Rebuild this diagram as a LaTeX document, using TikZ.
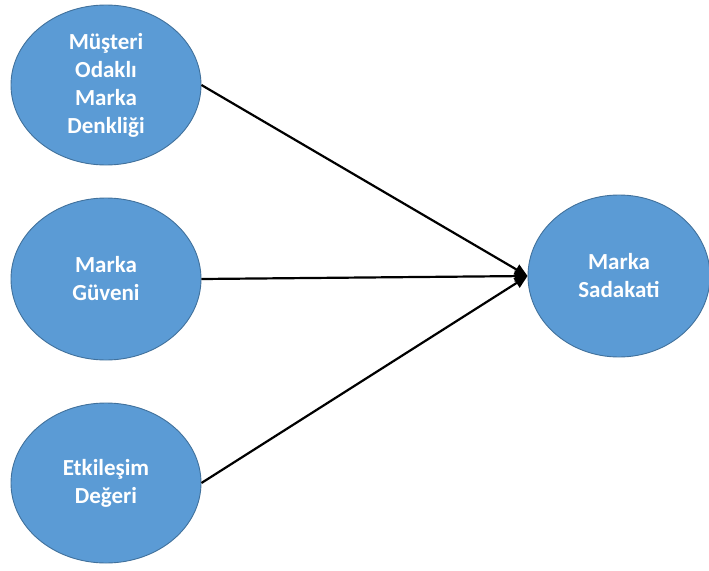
\documentclass[tikz,border=0pt]{standalone}
\usepackage{fontspec}
\setmainfont{Carlito}
\usetikzlibrary{shapes.geometric,arrows.meta}
\definecolor{ovalfill}{HTML}{5B9BD5}
\definecolor{ovalline}{HTML}{41719C}
\begin{document}
\begin{tikzpicture}[x=1pt,y=-1pt,
  oval/.style={ellipse,draw=ovalline,line width=0.9pt,fill=ovalfill,
    minimum width=190pt,minimum height=160pt,inner sep=0pt,
    align=center,text=white,font=\bfseries\fontsize{23}{28}\selectfont},
  link/.style={line width=2.2pt,-{Triangle[length=13pt,width=11pt]}}]
  \useasboundingbox (0,0) rectangle (709,570);
  \node[oval] (cbe) at (106,85) {Müşteri\\Odaklı\\Marka\\Denkliği};
  \node[oval,minimum height=162pt] (trust) at (106,279) {Marka\\Güveni};
  \node[oval] (value) at (106,483) {Etkileşim\\Değeri};
  \node[oval,minimum width=182pt,minimum height=162pt] (loyal) at (619,276) {Marka\\Sadakati};
  \draw[link] (cbe.east) -- (loyal.west);
  \draw[link] (trust.east) -- (loyal.west);
  \draw[link] (value.east) -- (loyal.west);
\end{tikzpicture}
\end{document}
